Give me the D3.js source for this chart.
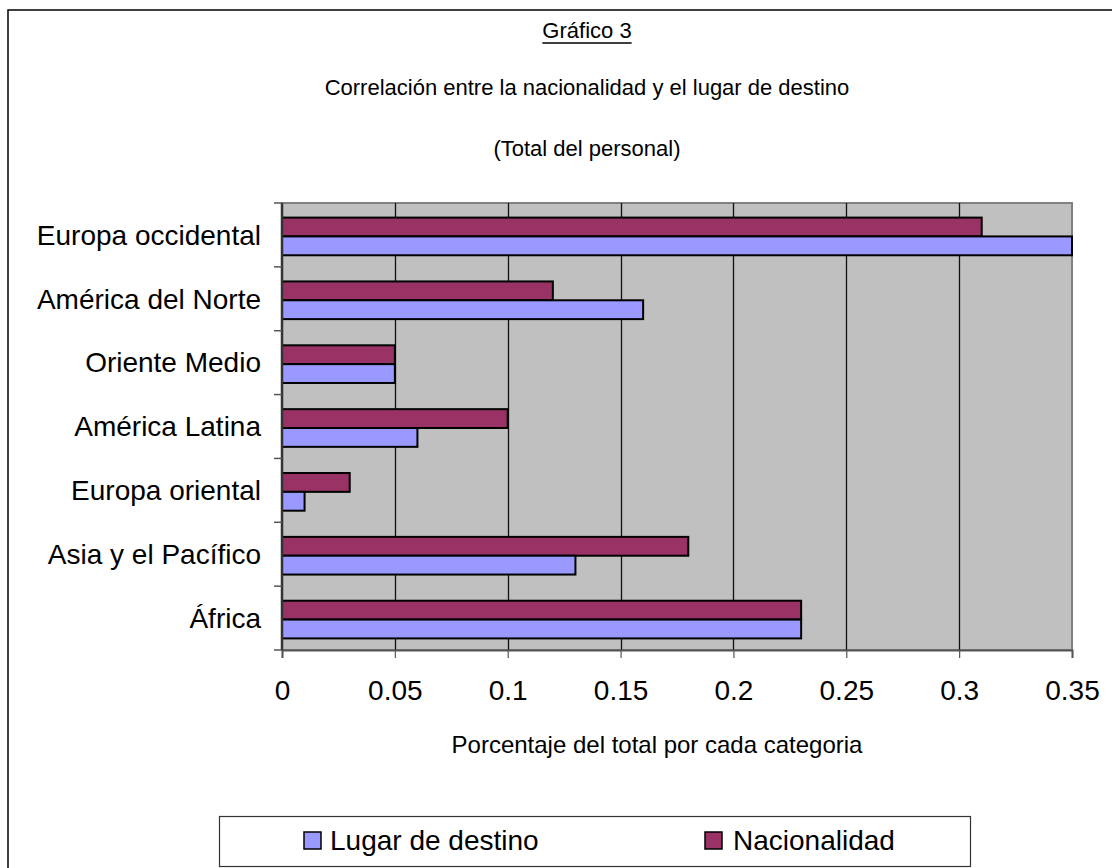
<!DOCTYPE html>
<html>
  <head>
    <meta charset="utf-8" />
    <title>Gráfico 3</title>
    <style>
    body{
      margin: 0;
      background-color: white;
    }
    text{
      font-family: "Liberation Sans", Arial, sans-serif;
      fill: #000;
    }
    </style>
  </head>
  <body>
    <svg id="chart"></svg>
    <script src="https://d3js.org/d3.v7.min.js"></script>
    <script>

    // categories top to bottom, as they appear in the chart
    var categories = ["Europa occidental", "América del Norte", "Oriente Medio", "América Latina",
                      "Europa oriental", "Asia y el Pacífico", "África"];
    var lugar = [0.35, 0.16, 0.05, 0.06, 0.01, 0.13, 0.23];
    var nacionalidad = [0.31, 0.12, 0.05, 0.10, 0.03, 0.18, 0.23];
    var seriesNames = ["Lugar de destino", "Nacionalidad"];
    var seriesColors = ["#9999FF", "#993366"];
    var xTicks = [0, 0.05, 0.1, 0.15, 0.2, 0.25, 0.3, 0.35];
    var xTickLabels = ["0", "0.05", "0.1", "0.15", "0.2", "0.25", "0.3", "0.35"];

    var width = 1112;
    var height = 868;
    var plot = {left: 282, right: 1072, top: 203, bottom: 650};

    var svg = d3.select("#chart")
                .attr("width", width)
                .attr("height", height);

    // outer chart frame (runs off the right and bottom of the picture)
    svg.append("rect")
       .attr("x", 8)
       .attr("y", 10)
       .attr("width", 1200)
       .attr("height", 900)
       .attr("fill", "white")
       .attr("stroke", "#000")
       .attr("stroke-width", 1.5);

    var rows = categories.map(function(c, i){
      return {cat: c, values: [{key: "Nacionalidad", v: nacionalidad[i], color: seriesColors[1]},
                               {key: "Lugar de destino", v: lugar[i], color: seriesColors[0]}]};
    });

    var x = d3.scaleLinear()
              .domain([0, 0.35])
              .range([plot.left, plot.right]);

    var y = d3.scaleBand()
              .domain(categories)
              .range([plot.top, plot.bottom])
              .paddingInner(0.41)
              .paddingOuter(0.205);

    var ySeries = d3.scaleBand()
                    .domain(["Nacionalidad", "Lugar de destino"])
                    .range([0, y.bandwidth()]);

    // plot area
    svg.append("rect")
       .attr("x", plot.left)
       .attr("y", plot.top)
       .attr("width", plot.right - plot.left)
       .attr("height", plot.bottom - plot.top)
       .attr("fill", "#C0C0C0")
       .attr("stroke", "#808080")
       .attr("stroke-width", 2);

    // vertical gridlines
    svg.append("g")
       .selectAll("line")
       .data(xTicks.slice(1, -1))
       .enter().append("line")
       .attr("x1", function(d){ return Math.round(x(d)) + 0.5; })
       .attr("x2", function(d){ return Math.round(x(d)) + 0.5; })
       .attr("y1", plot.top)
       .attr("y2", plot.bottom)
       .attr("stroke", "#111")
       .attr("stroke-width", 1.3);

    // bars
    var group = svg.append("g")
                   .selectAll("g")
                   .data(rows)
                   .enter().append("g")
                   .attr("transform", function(d){ return "translate(0," + (y(d.cat) + 1.5) + ")"; });

    group.selectAll("rect")
         .data(function(d){ return d.values; })
         .enter().append("rect")
         .attr("x", x(0))
         .attr("y", function(d){ return ySeries(d.key); })
         .attr("width", function(d){ return x(d.v) - x(0); })
         .attr("height", ySeries.bandwidth())
         .attr("fill", function(d){ return d.color; })
         .attr("stroke", "#000")
         .attr("stroke-width", 2);

    // x axis
    var xAxis = svg.append("g")
                   .attr("transform", "translate(0," + plot.bottom + ")")
                   .call(d3.axisBottom(x)
                           .tickValues(xTicks)
                           .tickSize(8)
                           .tickPadding(22)
                           .tickFormat(function(d, i){ return xTickLabels[i]; }));

    xAxis.select(".domain")
         .attr("stroke", "#555")
         .attr("stroke-width", 2);
    xAxis.selectAll(".tick line")
         .attr("stroke", "#555")
         .attr("stroke-width", 1.2);
    xAxis.selectAll(".tick text")
         .attr("font-size", "28px")
         .attr("font-family", "Liberation Sans, Arial, sans-serif")
         .attr("fill", "#000");

    // y axis: ticks sit on the category boundaries
    var yAxis = svg.append("g");

    yAxis.append("line")
         .attr("x1", plot.left)
         .attr("x2", plot.left)
         .attr("y1", plot.top)
         .attr("y2", plot.bottom)
         .attr("stroke", "#333")
         .attr("stroke-width", 2.5);

    yAxis.selectAll(".ytick")
         .data(d3.range(categories.length + 1))
         .enter().append("line")
         .attr("class", "ytick")
         .attr("x1", plot.left - 8)
         .attr("x2", plot.left)
         .attr("y1", function(i){ return plot.top + i * y.step(); })
         .attr("y2", function(i){ return plot.top + i * y.step(); })
         .attr("stroke", "#555")
         .attr("stroke-width", 1.5);

    yAxis.selectAll(".ylabel")
         .data(categories)
         .enter().append("text")
         .attr("class", "ylabel")
         .attr("x", 261)
         .attr("y", function(d){ return y(d) + y.bandwidth() / 2; })
         .attr("dy", "0.35em")
         .attr("text-anchor", "end")
         .attr("font-size", "28px")
         .text(function(d){ return d; });

    // titles
    var titleX = 587;
    var t1 = svg.append("text")
                .attr("x", titleX)
                .attr("y", 38)
                .attr("text-anchor", "middle")
                .attr("font-size", "22px")
                .text("Gráfico 3");
    var t1w = t1.node().getComputedTextLength();
    svg.append("line")
       .attr("x1", titleX - t1w / 2)
       .attr("x2", titleX + t1w / 2)
       .attr("y1", 43)
       .attr("y2", 43)
       .attr("stroke", "#000")
       .attr("stroke-width", 1.5);

    svg.append("text")
       .attr("x", titleX)
       .attr("y", 95)
       .attr("text-anchor", "middle")
       .attr("font-size", "22px")
       .text("Correlación entre la nacionalidad y el lugar de destino");

    svg.append("text")
       .attr("x", titleX)
       .attr("y", 156)
       .attr("text-anchor", "middle")
       .attr("font-size", "22px")
       .text("(Total del personal)");

    svg.append("text")
       .attr("x", 657)
       .attr("y", 753)
       .attr("text-anchor", "middle")
       .attr("font-size", "24px")
       .text("Porcentaje del total por cada categoria");

    // legend
    var legend = svg.append("g");

    legend.append("rect")
          .attr("x", 219.5)
          .attr("y", 816.5)
          .attr("width", 751)
          .attr("height", 50)
          .attr("fill", "white")
          .attr("stroke", "#333")
          .attr("stroke-width", 1.2);

    var legendX = [304, 705];

    var item = legend.selectAll(".item")
                     .data(seriesNames)
                     .enter().append("g")
                     .attr("class", "item")
                     .attr("transform", function(d, i){ return "translate(" + legendX[i] + ",832)"; });

    item.append("rect")
        .attr("width", 17)
        .attr("height", 17)
        .attr("fill", function(d, i){ return seriesColors[i]; })
        .attr("stroke", "#000")
        .attr("stroke-width", 1.5);

    item.append("text")
        .attr("x", function(d, i){ return i == 0 ? 26 : 28; })
        .attr("y", 18)
        .attr("font-size", "28px")
        .text(function(d){ return d; });

    </script>
  </body>
</html>
